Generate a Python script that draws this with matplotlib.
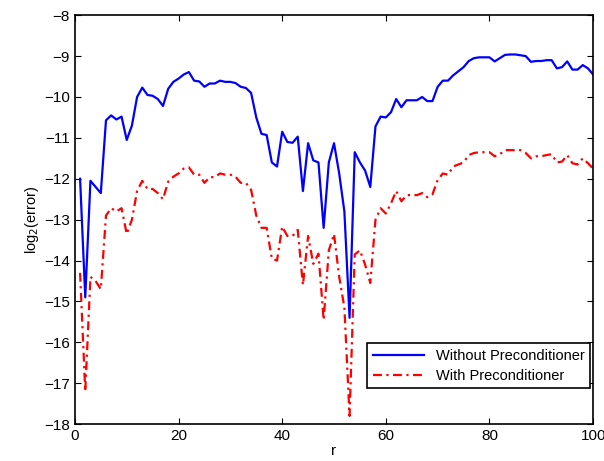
import numpy as np
import matplotlib
matplotlib.use("Agg")
import matplotlib.pyplot as plt

plt.rcParams['font.family'] = ['Liberation Sans', 'DejaVu Sans']

# ось r
r = np.arange(1, 101)

# без предобуславливателя
without_prec = [
    -12.0, -14.9, -12.05, -12.2, -12.35, -10.57, -10.45, -10.55, -10.48, -11.05,
    -10.7, -10.0, -9.77, -9.95, -9.97, -10.05, -10.22, -9.8, -9.63, -9.55,
    -9.45, -9.39, -9.6, -9.62, -9.75, -9.67, -9.67, -9.6, -9.63, -9.63,
    -9.66, -9.75, -9.78, -9.9, -10.5, -10.9, -10.93, -11.6, -11.7, -10.85,
    -11.1, -11.12, -10.97, -12.3, -11.13, -11.55, -11.6, -13.2, -11.6, -11.13,
    -11.87, -12.8, -15.4, -11.35, -11.6, -11.8, -12.2, -10.72, -10.48, -10.5,
    -10.37, -10.05, -10.25, -10.08, -10.08, -10.08, -10.0, -10.1, -10.1, -9.75,
    -9.6, -9.6, -9.47, -9.37, -9.27, -9.12, -9.05, -9.03, -9.03, -9.03,
    -9.13, -9.05, -8.97, -8.96, -8.96, -8.98, -9.0, -9.14, -9.12, -9.12,
    -9.1, -9.1, -9.3, -9.27, -9.13, -9.33, -9.33, -9.22, -9.3, -9.45,
]

# с предобуславливателем
with_prec = [
    -14.3, -17.2, -14.4, -14.5, -14.7, -12.9, -12.72, -12.8, -12.72, -13.35,
    -13.0, -12.3, -12.05, -12.25, -12.25, -12.35, -12.5, -12.07, -11.95, -11.87,
    -11.75, -11.72, -11.9, -11.9, -12.1, -11.96, -11.96, -11.87, -11.9, -11.9,
    -11.95, -12.1, -12.1, -12.27, -12.9, -13.2, -13.2, -13.95, -14.0, -13.17,
    -13.4, -13.4, -13.25, -14.6, -13.4, -14.08, -13.83, -15.45, -13.75, -13.35,
    -14.4, -15.15, -17.8, -13.85, -13.75, -14.1, -14.55, -13.0, -12.72, -12.85,
    -12.6, -12.3, -12.55, -12.4, -12.4, -12.4, -12.35, -12.45, -12.38, -12.03,
    -11.87, -11.9, -11.7, -11.65, -11.6, -11.42, -11.37, -11.35, -11.35, -11.35,
    -11.45, -11.4, -11.3, -11.3, -11.3, -11.3, -11.37, -11.5, -11.45, -11.45,
    -11.42, -11.4, -11.6, -11.58, -11.42, -11.62, -11.65, -11.5, -11.62, -11.75,
]

fig = plt.figure(figsize=(6.04, 4.61), dpi=100)
ax = fig.add_axes([0.124, 0.080, 0.858, 0.887])

ax.plot(r, without_prec, color="#0000ff", linewidth=1.6, label="Without Preconditioner")
ax.plot(r, with_prec, color="#ff0000", linewidth=1.6, linestyle=(0, (4, 2, 1, 2)),
        label="With Preconditioner")

ax.set_xlim(0, 100)
ax.set_ylim(-18, -8)
ax.set_xticks(range(0, 101, 20))
ax.set_yticks(range(-18, -7, 1))
ax.tick_params(direction="in", top=True, right=True, labelsize=11, length=4)
for s in ax.spines.values():
    s.set_linewidth(1.2)

ax.set_xlabel("r", fontsize=11, labelpad=1)
ax.set_ylabel("log$_2$(error)", fontsize=10.5, labelpad=2)

leg = ax.legend(loc="lower right", bbox_to_anchor=(1.0, 0.08), fontsize=10.5,
                fancybox=False, edgecolor="black", framealpha=1,
                handlelength=3.5, borderaxespad=0.2, borderpad=0.4, labelspacing=0.4)
leg.get_frame().set_linewidth(1.2)

fig.savefig("out.png", dpi=100)
